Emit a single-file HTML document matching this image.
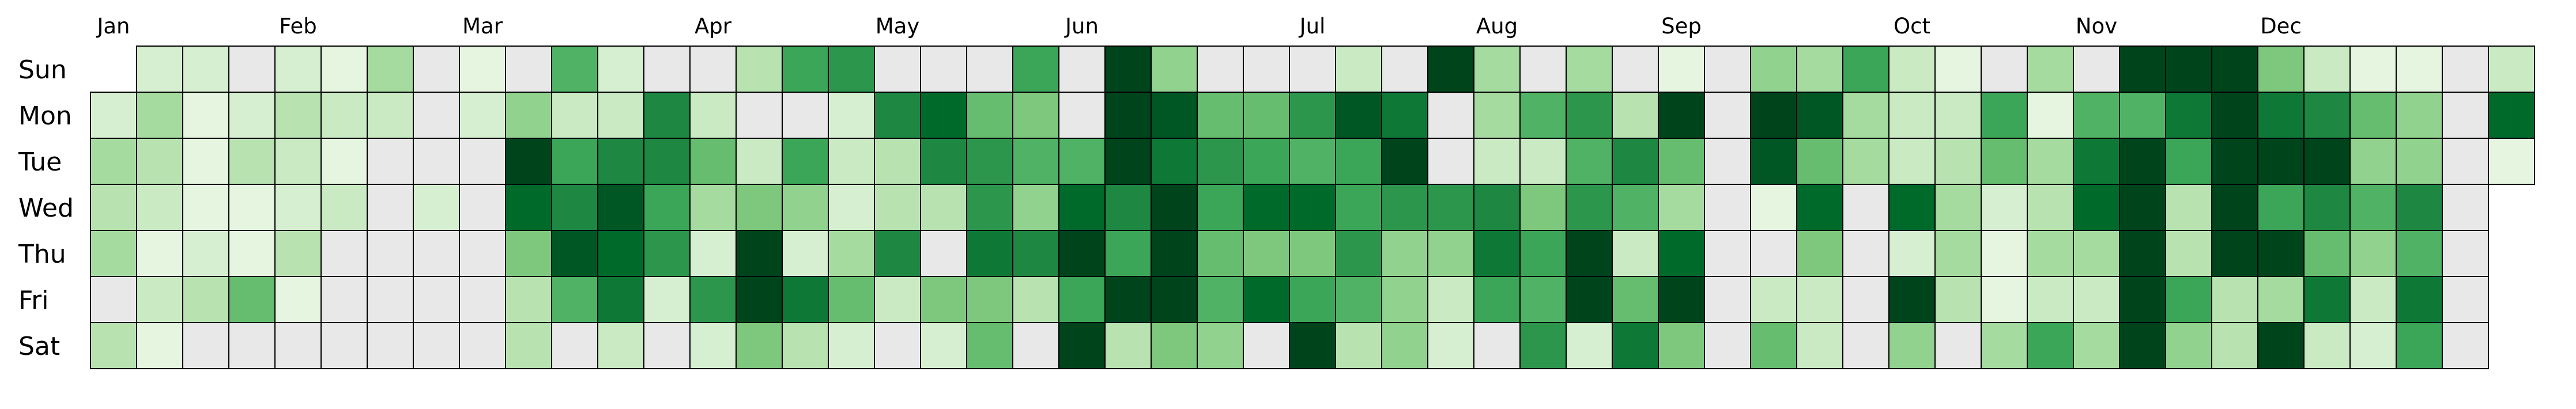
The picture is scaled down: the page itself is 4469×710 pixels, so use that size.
<!DOCTYPE html>
<html><head><meta charset="utf-8"><style>
html,body{margin:0;padding:0;background:#fff;}
svg{display:block;}
text{font-family:"DejaVu Sans","Liberation Sans",sans-serif;fill:#000;}
</style></head>
<body>
<svg id="chart" width="4469" height="710" viewBox="0 0 4469 710" xmlns="http://www.w3.org/2000/svg">
<g id="month-labels"></g>
<g id="day-labels"></g>
<g id="cells"></g>
</svg>
<script>
const weekdays = ["Sun","Mon","Tue","Wed","Thu","Fri","Sat"];
const monthNames = ["Jan","Feb","Mar","Apr","May","Jun","Jul","Aug","Sep","Oct","Nov","Dec"];
const monthWeeks = [0,4,8,13,17,21,26,30,34,39,43,47];
const w00=[null,2,5,4,5,0,4];
const w01=[2,5,4,3,1,3,1];
const w02=[2,1,1,1,2,4,0];
const w03=[0,2,4,1,1,8,0];
const w04=[2,4,3,2,4,1,0];
const w05=[1,3,1,3,0,0,0];
const w06=[5,3,0,0,0,0,0];
const w07=[0,0,0,2,0,0,0];
const w08=[1,2,0,0,0,0,0];
const w09=[0,6,16,14,7,4,4];
const w10=[9,3,10,12,15,9,0];
const w11=[2,3,12,15,14,13,3];
const w12=[0,12,12,10,11,2,0];
const w13=[0,3,8,5,2,11,2];
const w14=[4,0,3,7,16,16,7];
const w15=[10,0,10,6,2,13,4];
const w16=[11,2,3,2,5,8,2];
const w17=[0,12,4,4,12,3,0];
const w18=[0,14,12,4,0,7,2];
const w19=[0,8,11,11,13,7,8];
const w20=[10,7,9,6,12,4,0];
const w21=[0,0,9,14,16,10,16];
const w22=[16,16,16,12,10,16,4];
const w23=[6,15,13,16,16,16,7];
const w24=[0,8,11,10,8,9,6];
const w25=[0,8,10,14,7,14,0];
const w26=[0,11,9,14,7,10,16];
const w27=[3,15,10,10,11,9,4];
const w28=[0,13,16,11,6,6,6];
const w29=[16,0,0,11,6,3,2];
const w30=[5,5,3,12,13,10,0];
const w31=[0,9,3,7,10,9,11];
const w32=[5,11,9,11,16,16,2];
const w33=[0,4,12,9,3,8,13];
const w34=[1,16,8,5,14,16,7];
const w35=[0,0,0,0,0,0,0];
const w36=[6,16,15,1,0,3,8];
const w37=[5,15,8,14,7,3,3];
const w38=[10,5,5,0,0,0,0];
const w39=[3,3,3,14,2,16,6];
const w40=[1,3,4,5,5,4,0];
const w41=[0,10,8,2,1,1,5];
const w42=[5,1,5,4,5,3,10];
const w43=[0,9,13,14,5,3,5];
const w44=[16,9,16,16,16,16,16];
const w45=[16,13,10,4,4,10,6];
const w46=[16,16,16,16,16,4,4];
const w47=[7,13,16,10,16,5,16];
const w48=[3,12,16,12,8,13,3];
const w49=[1,8,6,9,6,3,2];
const w50=[1,6,6,12,9,13,10];
const w51=[0,0,0,0,0,0,0];
const w52=[3,14,1,null,null,null,null];
const weeks=[w00,w01,w02,w03,w04,w05,w06,w07,w08,w09,w10,w11,w12,w13,w14,w15,w16,w17,w18,w19,w20,w21,w22,w23,w24,w25,w26,w27,w28,w29,w30,w31,w32,w33,w34,w35,w36,w37,w38,w39,w40,w41,w42,w43,w44,w45,w46,w47,w48,w49,w50,w51,w52];

const X0=157, Y0=80, CW=80, CH=80;
function xScale(w){return X0+w*CW;}
function yScale(d){return Y0+d*CH;}
const greens=["#f7fcf5","#e5f5e0","#c7e9c0","#a1d99b","#74c476","#41ab5d","#238b45","#006d2c","#00441b"];
function hex(c){return [1,3,5].map(i=>parseInt(c.substr(i,2),16));}
function color(v){
  if(v===0) return "#e8e8e8";
  let t=0.125+(v-1)*(0.875/15); t=Math.max(0,Math.min(1,t));
  const p=t*8, i=Math.min(7,Math.floor(p)), f=p-i;
  const a=hex(greens[i]), b=hex(greens[i+1]);
  return "rgb("+a.map((x,k)=>Math.round(x+(b[k]-x)*f)).join(",")+")";
}
const NS="http://www.w3.org/2000/svg";
const cells=document.getElementById("cells");
weeks.forEach((wk,w)=>{
  wk.forEach((v,d)=>{
    if(v===null) return;
    const r=document.createElementNS(NS,"rect");
    r.setAttribute("x",xScale(w));r.setAttribute("y",yScale(d));
    r.setAttribute("width",CW);r.setAttribute("height",CH);
    r.setAttribute("fill",color(v));r.setAttribute("stroke","#000");r.setAttribute("stroke-width","2");
    
    
    cells.appendChild(r);
  });
});
const ml=document.getElementById("month-labels");
monthNames.forEach((m,i)=>{
  const t=document.createElementNS(NS,"text");
  t.setAttribute("x",xScale(monthWeeks[i])+CW/2);t.setAttribute("y",58);
  t.setAttribute("text-anchor","middle");t.setAttribute("font-size","37");
  t.textContent=m;
  
  
  ml.appendChild(t);
});
const dl=document.getElementById("day-labels");
weekdays.forEach((d,i)=>{
  const t=document.createElementNS(NS,"text");
  t.setAttribute("x",32);t.setAttribute("y",yScale(i)+CH/2+16);
  t.setAttribute("font-size","44");
  t.textContent=d;
  
  
  dl.appendChild(t);
});
</script>
</body></html>
